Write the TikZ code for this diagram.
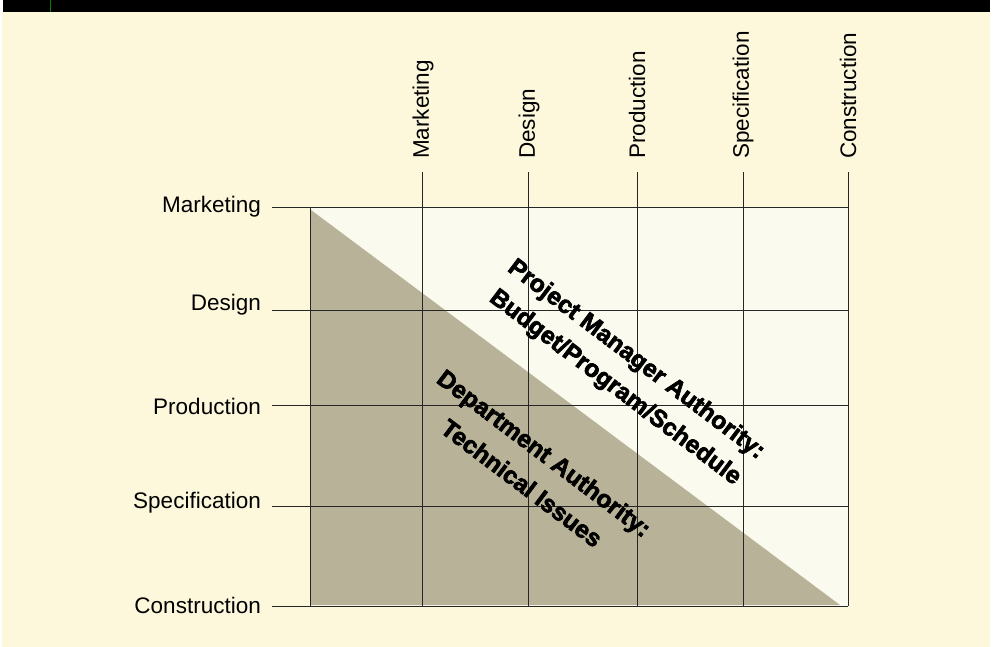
\documentclass[tikz,border=0pt]{standalone}
\usepackage{fontspec}
\setmainfont{Liberation Sans}
\newfontfamily\heavyfont[UprightFeatures={FakeBold=2.5},BoldFeatures={FakeBold=2.5}]{Liberation Sans}
\begin{document}
\begin{tikzpicture}[x=1pt,y=-1pt,
  gridline/.style={draw=black!85, line width=0.9pt},
  rowlab/.style={anchor=east, font=\fontsize{22.5}{26}\selectfont, inner sep=0pt},
  collab/.style={anchor=west, rotate=90, font=\fontsize{22.5}{26}\selectfont, inner sep=0pt},
  authlab/.style={rotate=-37, font=\fontsize{24.5}{30}\selectfont\heavyfont\bfseries, inner sep=0pt}]
\definecolor{cream}{RGB}{253,248,220}
\definecolor{lightarea}{RGB}{250,250,238}
\definecolor{darkarea}{RGB}{184,178,152}
\useasboundingbox (0,0) rectangle (994,647);
\fill[white] (0,0) rectangle (994,647);
\fill[cream] (2,12) rectangle (990,647);
\fill[black] (3,0) rectangle (990,12);
\draw[green!50!black, line width=0.8pt] (50,0) -- (50,12);
% regions
\fill[lightarea] (310,207) rectangle (848,606);
\fill[darkarea] (311,210) -- (840,605) -- (311,605) -- cycle;
% coordinates
\foreach \n/\y in {r1/207, r2/310, r3/405, r4/506, r5/606} {
  \coordinate (\n w) at (272,\y);
  \coordinate (\n e) at (848,\y);
}
\foreach \n/\x in {c1/422, c2/528, c3/637, c4/743, c5/848} {
  \coordinate (\n t) at (\x,172);
  \coordinate (\n b) at (\x,606);
}
\coordinate (lt) at (310,207);
\coordinate (lb) at (310,606);
\foreach \n in {r1,r2,r3,r4,r5} \draw[gridline] (\n w) -- (\n e);
\foreach \n in {c1,c2,c3,c4,c5} \draw[gridline] (\n t) -- (\n b);
\draw[gridline] (lt) -- (lb);
% row labels
\node[rowlab] (rl1) at (261,207) {Marketing};
\node[rowlab] (rl2) at (261,305) {Design};
\node[rowlab] (rl3) at (261,406) {Production};
\node[rowlab] (rl4) at (261,503) {Specification};
\node[rowlab] (rl5) at (261,605) {Construction};
% column labels
\node[collab] (cl1) at (423,159) {Marketing};
\node[collab] (cl2) at (529,159) {Design};
\node[collab] (cl3) at (637,159) {Production};
\node[collab] (cl4) at (743,159) {Specification};
\node[collab] (cl5) at (848,159) {Construction};
% authority labels
\node[authlab] (pm1) at (636,360) {Project Manager Authority:};
\node[authlab] (pm2) at (615,388) {Budget/Program/Schedule};
\node[authlab] (da1) at (543,455) {Department Authority:};
\node[authlab] (da2) at (522,483) {Technical Issues};
\end{tikzpicture}
\end{document}
